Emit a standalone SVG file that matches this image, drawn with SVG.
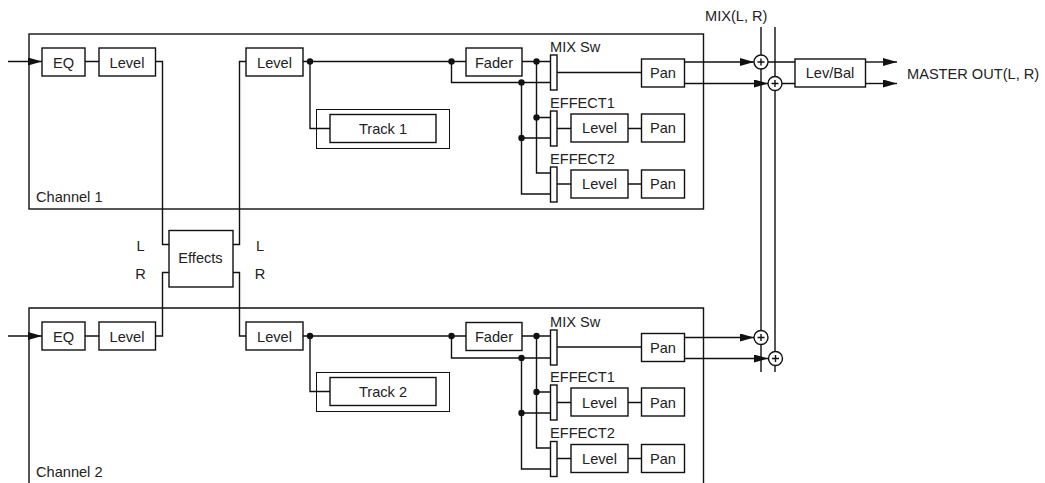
<svg xmlns="http://www.w3.org/2000/svg" width="1045" height="483" viewBox="0 0 1045 483">
<defs>
<marker id="arr" markerUnits="userSpaceOnUse" markerWidth="14" markerHeight="8" refX="14" refY="4" orient="auto"><path d="M0 0L14 4L0 8Z" fill="#111"/></marker>
</defs>
<style>
rect,circle.s{fill:#fff;stroke:#111;stroke-width:1.4}
.c{fill:none;stroke:#111;stroke-width:1.4}
.frame{fill:none}
.thin{fill:none;stroke-width:1}
.d{fill:#111;stroke:none}
text{font-family:"Liberation Sans",Arial,sans-serif;font-size:14.6px;fill:#222}
.m{text-anchor:middle}
</style>
<g id="channel-1"><rect class="frame" x="29" y="34" width="674.5" height="175"/><text x="36" y="202">Channel 1</text></g>
<g id="channel-2"><path class="c" d="M29 483V308H703.5V483"/><text x="36" y="477">Channel 2</text></g>
<g id="connectors">
<path class="c" marker-end="url(#arr)" d="M8 61.5H42"/>
<path class="c" d="M85 61.5H99M155 61.5H162.500V244.500H169M233 244.500H239.500V61.500H246M303 61.500H466M522 61.500H550M310 61.500V128.500H330M451.500 61.500V82.500H550M536.500 61.500V173H550M521.500 82.500V194H550M536.500 117.500H550M521.500 138H550M557 72.500H641.500M557 128.500H571M628 128.500H641.500M557 184H571M628 184H641.500"/>
<path class="c" d="M85 336H99M155 336H162.500V272.500H169M233 272.500H239.500V336H246M303 336H466M522 336H550M310 336V391.500H330M451.500 336V358H550M536.500 336V448H550M521.500 358V469H550M536.500 392H550M521.500 413H550M557 347H641.500M557 402.500H571M628 402.500H641.500M557 458.500H571M628 458.500H641.500"/>
<path class="c" d="M8 336H42" marker-end="url(#arr)"/>
<path class="c" d="M761 27V372M775 27V372"/>
<path class="c" marker-end="url(#arr)" d="M684.500 62H754"/>
<path class="c" marker-end="url(#arr)" d="M684.500 83.500H768"/>
<path class="c" marker-end="url(#arr)" d="M684.500 337.500H754"/>
<path class="c" marker-end="url(#arr)" d="M684.500 358.500H768"/>
<path class="c" d="M768 62H795M782 83.500H795"/>
<path class="c" marker-end="url(#arr)" d="M865.500 62H897"/>
<path class="c" marker-end="url(#arr)" d="M865.500 83.500H897"/>
<g class="dots">
<circle class="d" cx="310" cy="61.500" r="3.200"/><circle class="d" cx="451.500" cy="61.500" r="3.200"/><circle class="d" cx="536.500" cy="61.500" r="3.200"/><circle class="d" cx="521.500" cy="82.500" r="3.200"/><circle class="d" cx="536.500" cy="117.500" r="3.200"/><circle class="d" cx="521.500" cy="138" r="3.200"/>
<circle class="d" cx="310" cy="336" r="3.200"/><circle class="d" cx="451.500" cy="336" r="3.200"/><circle class="d" cx="536.500" cy="336" r="3.200"/><circle class="d" cx="521.500" cy="358" r="3.200"/><circle class="d" cx="536.500" cy="392" r="3.200"/><circle class="d" cx="521.500" cy="413" r="3.200"/>
</g>
</g>
<g id="eq1"><rect x="42" y="48" width="43" height="28"/><text class="m" x="63.500" y="68">EQ</text></g>
<g id="level1a"><rect x="99" y="48" width="56.500" height="28"/><text class="m" x="127" y="68">Level</text></g>
<g id="level1b"><rect x="246" y="48" width="57" height="28"/><text class="m" x="274.500" y="68">Level</text></g>
<g id="fader1"><rect x="466" y="48" width="56" height="28"/><text class="m" x="494" y="67.500">Fader</text></g>
<g id="track1"><rect class="thin" x="316.500" y="109.500" width="133" height="39"/><rect x="330" y="114.500" width="106" height="28"/><text class="m" x="383" y="134">Track 1</text></g>
<g id="sw1a"><rect x="550.500" y="55" width="6.500" height="35"/><text x="550" y="52">MIX Sw</text></g>
<g id="sw1b"><rect x="550.500" y="111" width="6.500" height="35"/><text x="550" y="107.500">EFFECT1</text></g>
<g id="sw1c"><rect x="550.500" y="167" width="6.500" height="35"/><text x="550" y="163.500">EFFECT2</text></g>
<g id="pan1a"><rect x="641.500" y="59" width="43" height="28"/><text class="m" x="663" y="78">Pan</text></g>
<g id="level1c"><rect x="571" y="114" width="57" height="28"/><text class="m" x="599.500" y="133">Level</text></g>
<g id="pan1b"><rect x="641.500" y="114" width="43" height="28"/><text class="m" x="663" y="133">Pan</text></g>
<g id="level1d"><rect x="571" y="170" width="57" height="28"/><text class="m" x="599.500" y="189">Level</text></g>
<g id="pan1c"><rect x="641.500" y="170" width="43" height="28"/><text class="m" x="663" y="189">Pan</text></g>
<g id="effects"><rect x="169" y="230.500" width="64" height="56.500"/><text class="m" x="200.500" y="263">Effects</text>
<text class="m" x="140.500" y="251">L</text><text class="m" x="140.500" y="279">R</text><text class="m" x="260" y="251">L</text><text class="m" x="260" y="279">R</text></g>
<g id="eq2"><rect x="42" y="322" width="43" height="28"/><text class="m" x="63.500" y="342">EQ</text></g>
<g id="level2a"><rect x="99" y="322" width="56.500" height="28"/><text class="m" x="127" y="342">Level</text></g>
<g id="level2b"><rect x="246" y="322" width="57" height="28"/><text class="m" x="274.500" y="342">Level</text></g>
<g id="fader2"><rect x="466" y="322.500" width="56" height="28"/><text class="m" x="494" y="342">Fader</text></g>
<g id="track2"><rect class="thin" x="316.500" y="372.500" width="133" height="39"/><rect x="330" y="377.500" width="106" height="28"/><text class="m" x="383" y="397">Track 2</text></g>
<g id="sw2a"><rect x="550.500" y="330" width="6.500" height="35"/><text x="550" y="327">MIX Sw</text></g>
<g id="sw2b"><rect x="550.500" y="385" width="6.500" height="35"/><text x="550" y="382">EFFECT1</text></g>
<g id="sw2c"><rect x="550.500" y="441.500" width="6.500" height="35"/><text x="550" y="438">EFFECT2</text></g>
<g id="pan2a"><rect x="641.500" y="333.500" width="43" height="28"/><text class="m" x="663" y="353">Pan</text></g>
<g id="level2c"><rect x="571" y="388" width="57" height="28"/><text class="m" x="599.500" y="408">Level</text></g>
<g id="pan2b"><rect x="641.500" y="388" width="43" height="28"/><text class="m" x="663" y="408">Pan</text></g>
<g id="level2d"><rect x="571" y="444.500" width="57" height="28"/><text class="m" x="599.500" y="464">Level</text></g>
<g id="pan2c"><rect x="641.500" y="444.500" width="43" height="28"/><text class="m" x="663" y="464">Pan</text></g>
<g id="sum1"><circle class="s" cx="761" cy="62" r="7"/><path class="c" d="M757.500 62H764.500M761 58.500V65.500"/></g>
<g id="sum2"><circle class="s" cx="775" cy="83.500" r="7"/><path class="c" d="M771.500 83.500H778.500M775 80V87"/></g>
<g id="sum3"><circle class="s" cx="761" cy="337.500" r="7"/><path class="c" d="M757.500 337.500H764.500M761 334V341"/></g>
<g id="sum4"><circle class="s" cx="775.500" cy="358.500" r="7"/><path class="c" d="M772 358.500H779M775.500 355V362"/></g>
<g id="levbal"><rect x="795" y="59" width="70.500" height="28"/><text class="m" x="830" y="78">Lev/Bal</text></g>
<text x="705" y="20.500">MIX(L, R)</text>
<text x="907" y="78.500">MASTER OUT(L, R)</text>
</svg>
